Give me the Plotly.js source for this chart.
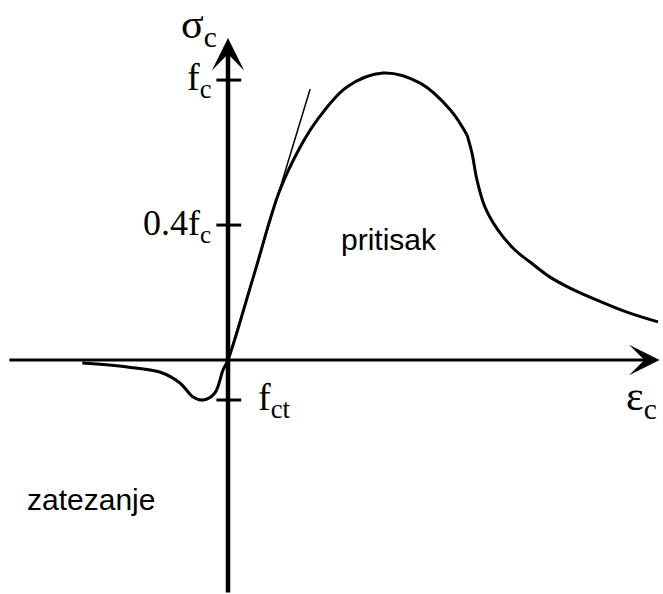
<!DOCTYPE html>
<html>
<head>
<meta charset="utf-8">
<script src="https://cdn.plot.ly/plotly-3.0.1.min.js"></script>
<style>body{margin:0;background:#fff}</style>
</head>
<body>
<div id="plotDiv"></div>
<script>
// strain in per mille (peak at 2.0), stress relative to fc
var epsRise = [-1.88, -1.30, -0.88, -0.62, -0.45, -0.32, -0.17, -0.065, 0, 0.335, 0.66, 0.93, 1.15, 1.535, 2.0, 2.48, 2.87, 3.084];
var sigRise = [-0.011, -0.025, -0.043, -0.082, -0.132, -0.143, -0.118, -0.036, 0, 0.304, 0.60, 0.76, 0.857, 0.975, 1.025, 0.989, 0.893, 0.804];
var epsSoft = [3.084, 3.148, 3.213, 3.316, 3.484, 3.703, 3.897, 4.155, 4.413, 4.761, 5.148, 5.548];
var sigSoft = [0.804, 0.739, 0.643, 0.546, 0.464, 0.393, 0.35, 0.296, 0.257, 0.214, 0.171, 0.136];

var epsTan = [0, 1.06];
var sigTan = [0, 0.968];

var tickVals = [1, 0.482, -0.143];
var tickText = ['f<sub>c</sub>', '0.4f<sub>c</sub>', 'f<sub>ct</sub>'];

var axisEps = [-2.84, 5.57];
var axisSig = [-0.836, 1.15];

var serif = 'Liberation Serif, Times New Roman, serif';
var sans = 'Liberation Sans, Arial, sans-serif';

var curve1 = {
  x: epsRise, y: sigRise, type: 'scatter', mode: 'lines',
  line: {color: '#000', width: 3, shape: 'spline', smoothing: 1},
  hoverinfo: 'skip'
};
var curve2 = {
  x: epsSoft, y: sigSoft, type: 'scatter', mode: 'lines',
  line: {color: '#000', width: 3, shape: 'spline', smoothing: 1},
  hoverinfo: 'skip'
};
var tangent = {
  x: epsTan, y: sigTan, type: 'scatter', mode: 'lines',
  line: {color: '#000', width: 1.5},
  hoverinfo: 'skip'
};

// tick marks crossing the vertical axis
var shapes = tickVals.map(function(v) {
  return {type: 'line', xref: 'x', yref: 'y', x0: -0.15, x1: 0.17, y0: v, y1: v,
          line: {color: '#000', width: 3}};
});

var annotations = [
  // axes with arrow heads
  {x: axisEps[1], y: 0, ax: axisEps[0], ay: 0, xref: 'x', yref: 'y', axref: 'x', ayref: 'y',
   showarrow: true, arrowhead: 3, arrowwidth: 3, arrowsize: 1.7, arrowcolor: '#000', text: ''},
  {x: 0, y: axisSig[1], ax: 0, ay: axisSig[0], xref: 'x', yref: 'y', axref: 'x', ayref: 'y',
   showarrow: true, arrowhead: 3, arrowwidth: 4.5, arrowsize: 1.2, arrowcolor: '#000', text: ''},
  // tick labels
  {x: -0.2, y: tickVals[0], text: tickText[0], xanchor: 'right', yanchor: 'middle', showarrow: false,
   font: {family: serif, size: 38, color: '#000'}},
  {x: -0.2, y: tickVals[1], text: tickText[1], xanchor: 'right', yanchor: 'middle', showarrow: false,
   font: {family: serif, size: 36, color: '#000'}},
  {x: 0.36, y: tickVals[2], text: tickText[2], xanchor: 'left', yanchor: 'middle', showarrow: false,
   font: {family: serif, size: 38, color: '#000'}},
  // axis titles
  {x: -0.37, y: 1.19, text: '\u03c3<sub>c</sub>', xanchor: 'center', yanchor: 'middle', showarrow: false,
   font: {family: serif, size: 42, color: '#000'}},
  {x: 5.33, y: -0.14, text: '\u03b5<sub>c</sub>', xanchor: 'center', yanchor: 'middle', showarrow: false,
   font: {family: serif, size: 42, color: '#000'}},
  // region labels
  {x: 2.08, y: 0.43, text: 'pritisak', showarrow: false,
   font: {family: sans, size: 30, color: '#000'}},
  {x: -1.77, y: -0.5, text: 'zatezanje', showarrow: false,
   font: {family: sans, size: 30, color: '#000'}}
];

var hidden = {showgrid: false, zeroline: false, showticklabels: false, showline: false, ticks: '', fixedrange: true};

var layout = {
  width: 663, height: 594, autosize: false,
  margin: {l: 0, r: 0, t: 0, b: 0},
  paper_bgcolor: '#fff', plot_bgcolor: '#fff',
  showlegend: false,
  xaxis: Object.assign({range: [-2.942, 5.613]}, hidden),
  yaxis: Object.assign({range: [-0.836, 1.286]}, hidden),
  shapes: shapes,
  annotations: annotations
};

Plotly.newPlot('plotDiv', [curve1, curve2, tangent], layout, {displayModeBar: false, staticPlot: true});
</script>
</body>
</html>
